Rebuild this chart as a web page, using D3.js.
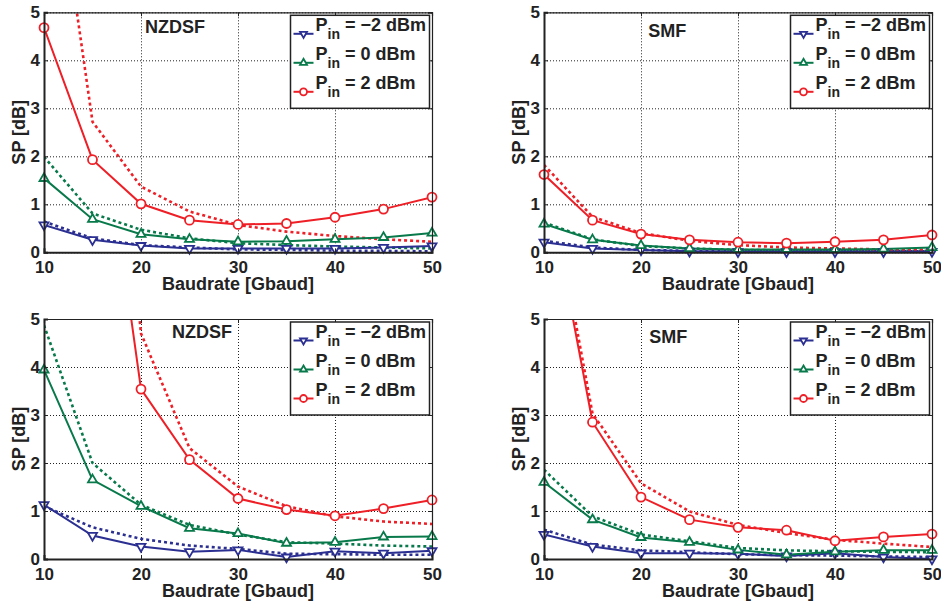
<!DOCTYPE html>
<html>
<head>
<meta charset="utf-8">
<script src="https://cdn.jsdelivr.net/npm/d3@7"></script>
<style>
  body { margin: 0; background: #fff; }
  text { font-family: "Liberation Sans", Arial, sans-serif; font-weight: bold; fill: #222; }
</style>
</head>
<body>
<svg id="chart" width="941" height="601"></svg>
<script>
// SP vs baudrate, 4 panels (NZDSF / SMF, two cases)
var baudrate = [10, 15, 20, 25, 30, 35, 40, 45, 50];
var xTicks = [10, 20, 30, 40, 50];
var yTicks = [0, 1, 2, 3, 4, 5];
var powers = ['\u22122', '0', '2'];

// top-left NZDSF: solid (with markers) and dotted
var nzA_m2 = [0.57, 0.26, 0.14, 0.08, 0.08, 0.08, 0.08, 0.10, 0.13];
var nzA_m2_dot = [0.64, 0.29, 0.15, 0.10, 0.06, 0.05, 0.035, 0.03, 0.02];
var nzA_0 = [1.54, 0.69, 0.375, 0.27, 0.22, 0.23, 0.27, 0.31, 0.40];
var nzA_0_dot = [1.99, 0.81, 0.47, 0.29, 0.19, 0.15, 0.12, 0.10, 0.08];
var nzA_2 = [4.68, 1.93, 1.01, 0.67, 0.58, 0.60, 0.73, 0.90, 1.15];
var nzA_2_dot = [9.8, 2.72, 1.37, 0.85, 0.57, 0.43, 0.34, 0.27, 0.22];

// top-right SMF
var smA_m2 = [0.21, 0.08, 0.05, 0.02, 0.01, 0.01, 0.01, 0.01, 0.015];
var smA_m2_dot = [0.24, 0.10, 0.05, 0.03, 0.02, 0.02, 0.02, 0.02, 0.02];
var smA_0 = [0.59, 0.26, 0.14, 0.08, 0.06, 0.06, 0.06, 0.07, 0.10];
var smA_0_dot = [0.62, 0.27, 0.13, 0.08, 0.05, 0.04, 0.035, 0.03, 0.03];
var smA_2 = [1.62, 0.67, 0.38, 0.26, 0.21, 0.19, 0.22, 0.26, 0.36];
var smA_2_dot = [1.82, 0.74, 0.40, 0.24, 0.15, 0.10, 0.08, 0.06, 0.05];

// bottom-left NZDSF
var nzB_m2 = [1.13, 0.49, 0.26, 0.15, 0.19, 0.04, 0.16, 0.12, 0.17];
var nzB_m2_dot = [1.10, 0.66, 0.42, 0.28, 0.21, 0.11, 0.10, 0.09, 0.09];
var nzB_0 = [3.94, 1.65, 1.10, 0.64, 0.53, 0.33, 0.35, 0.46, 0.47];
var nzB_0_dot = [4.87, 2.0, 1.13, 0.71, 0.51, 0.35, 0.32, 0.28, 0.26];
var nzB_2 = [25, 10.8, 3.54, 2.07, 1.26, 1.03, 0.90, 1.05, 1.23];
var nzB_2_dot = [30, 15, 4.70, 2.31, 1.51, 1.10, 0.89, 0.78, 0.73];

// bottom-right SMF
var smB_m2 = [0.51, 0.26, 0.12, 0.12, 0.11, 0.06, 0.12, 0.04, 0.0];
var smB_m2_dot = [0.61, 0.30, 0.18, 0.14, 0.10, 0.08, 0.07, 0.055, 0.04];
var smB_0 = [1.60, 0.82, 0.45, 0.35, 0.19, 0.09, 0.15, 0.18, 0.18];
var smB_0_dot = [1.86, 0.89, 0.51, 0.37, 0.23, 0.18, 0.16, 0.15, 0.14];
var smB_2 = [8.2, 2.85, 1.29, 0.82, 0.66, 0.60, 0.38, 0.46, 0.52];
var smB_2_dot = [8.5, 3.03, 1.58, 0.99, 0.71, 0.54, 0.40, 0.32, 0.25];

var colors = ['#2b2f91', '#08794a', '#ee1f26'];
var shapes = ['down', 'up', 'circle'];

var panels = [
    {left: 44, top: 12.3, title: 'NZDSF', tx: 23.5, ty: 4.57,
     solid: [nzA_m2, nzA_0, nzA_2], dotted: [nzA_m2_dot, nzA_0_dot, nzA_2_dot]},
    {left: 544, top: 12.3, title: 'SMF', tx: 22.7, ty: 4.49,
     solid: [smA_m2, smA_0, smA_2], dotted: [smA_m2_dot, smA_0_dot, smA_2_dot]},
    {left: 44, top: 319, title: 'NZDSF', tx: 26.3, ty: 4.61,
     solid: [nzB_m2, nzB_0, nzB_2], dotted: [nzB_m2_dot, nzB_0_dot, nzB_2_dot]},
    {left: 544, top: 319, title: 'SMF', tx: 22.8, ty: 4.5,
     solid: [smB_m2, smB_0, smB_2], dotted: [smB_m2_dot, smB_0_dot, smB_2_dot]}
];
var pw = 388, ph = 240;

var svg = d3.select('#chart');

function marker(sel, shape, x, y, size, color) {
    if (shape === 'circle') {
        sel.append('circle').attr('cx', x).attr('cy', y).attr('r', size / 2)
            .attr('fill', '#fff').attr('stroke', color).attr('stroke-width', 1.8);
    } else {
        var area = size * size * Math.sqrt(3) / 4;
        sel.append('path')
            .attr('d', d3.symbol().type(d3.symbolTriangle).size(area)())
            .attr('transform', 'translate(' + x + ',' + y + ')' + (shape === 'down' ? ' rotate(180)' : ''))
            .attr('fill', '#fff').attr('stroke', color).attr('stroke-width', 1.8);
    }
}

panels.forEach(function(p, pi) {
    var x = d3.scaleLinear().domain([10, 50]).range([0, pw]);
    var y = d3.scaleLinear().domain([0, 5]).range([ph, 0]);
    var g = svg.append('g').attr('transform', 'translate(' + p.left + ',' + p.top + ')');

    g.append('clipPath').attr('id', 'clip' + pi)
        .append('rect').attr('width', pw).attr('height', ph);

    // grid
    g.append('g').attr('class', 'grid')
        .call(d3.axisBottom(x).tickValues(xTicks).tickSize(-ph).tickFormat(''))
        .attr('transform', 'translate(0,' + ph + ')')
        .call(function(s) { s.select('.domain').remove(); })
        .selectAll('line').attr('stroke', '#cccccc').attr('stroke-dasharray', '1,2');
    g.append('g').attr('class', 'grid')
        .call(d3.axisLeft(y).tickValues(yTicks).tickSize(-pw).tickFormat(''))
        .call(function(s) { s.select('.domain').remove(); })
        .selectAll('line').attr('stroke', '#cccccc').attr('stroke-dasharray', '1,2');

    var line = d3.line()
        .x(function(d, i) { return x(baudrate[i]); })
        .y(function(d) { return y(d); });

    var plot = g.append('g').attr('clip-path', 'url(#clip' + pi + ')');
    // dotted curves first
    p.dotted.forEach(function(s, k) {
        plot.append('path').datum(s).attr('d', line)
            .attr('fill', 'none').attr('stroke', colors[k])
            .attr('stroke-width', 2.6).attr('stroke-dasharray', '3,3');
    });
    p.solid.forEach(function(s, k) {
        plot.append('path').datum(s).attr('d', line)
            .attr('fill', 'none').attr('stroke', colors[k]).attr('stroke-width', 2);
    });
    p.solid.forEach(function(s, k) {
        s.forEach(function(v, i) {
            if (v <= 5.05) marker(g, shapes[k], x(baudrate[i]), y(v), 9, colors[k]);
        });
    });

    // frame + ticks (matlab style: ticks inside on all sides)
    var ax = g.append('g').attr('transform', 'translate(0,' + ph + ')')
        .call(d3.axisBottom(x).tickValues(xTicks).tickSize(-4).tickPadding(9).tickFormat(d3.format('d')));
    var ay = g.append('g')
        .call(d3.axisLeft(y).tickValues(yTicks).tickSize(-4).tickPadding(4).tickFormat(d3.format('d')));
    g.append('g').call(d3.axisTop(x).tickValues(xTicks).tickSize(-4).tickFormat(''));
    g.append('g').attr('transform', 'translate(' + pw + ',0)')
        .call(d3.axisRight(y).tickValues(yTicks).tickSize(-4).tickFormat(''));
    g.selectAll('.domain').attr('stroke', '#222').attr('stroke-width', 1.2);
    ax.select('.domain').attr('stroke-width', 2);
    ay.select('.domain').attr('stroke-width', 2);
    g.selectAll('.tick line').attr('stroke', '#222');
    [ax, ay].forEach(function(a) {
        a.selectAll('text').attr('font-size', 17).attr('fill', '#222')
            .style('font-family', '"Liberation Sans", Arial, sans-serif').style('font-weight', 'bold');
    });

    // axis labels
    g.append('text').attr('x', pw / 2).attr('y', ph + 37.5)
        .attr('text-anchor', 'middle').attr('font-size', 18).text('Baudrate [Gbaud]');
    g.append('text').attr('transform', 'translate(-19,' + (ph / 2) + ') rotate(-90)')
        .attr('text-anchor', 'middle').attr('font-size', 18).text('SP [dB]');

    // panel title
    g.append('text').attr('x', x(p.tx)).attr('y', y(p.ty))
        .attr('text-anchor', 'middle').attr('font-size', 18).text(p.title);

    // legend
    var lg = g.append('g').attr('transform', 'translate(' + (pw - 141.5) + ',3)');
    lg.append('rect').attr('width', 139).attr('height', 93)
        .attr('fill', '#fff').attr('stroke', '#222').attr('stroke-width', 1.5);
    powers.forEach(function(pw_, k) {
        var ry = 18.5 + k * 29;
        lg.append('line').attr('x1', 3).attr('x2', 23).attr('y1', ry).attr('y2', ry)
            .attr('stroke', colors[k]).attr('stroke-width', 2);
        marker(lg, shapes[k], 13, ry, 7, colors[k]);
        var t = lg.append('text').attr('x', 25).attr('y', ry - 3).attr('font-size', 18);
        t.append('tspan').text('P');
        t.append('tspan').attr('font-size', 14).attr('dy', 8).text('in');
        t.append('tspan').attr('dy', -8).attr('dx', 5).text('= ' + pw_ + ' dBm');
    });
});
</script>
</body>
</html>
